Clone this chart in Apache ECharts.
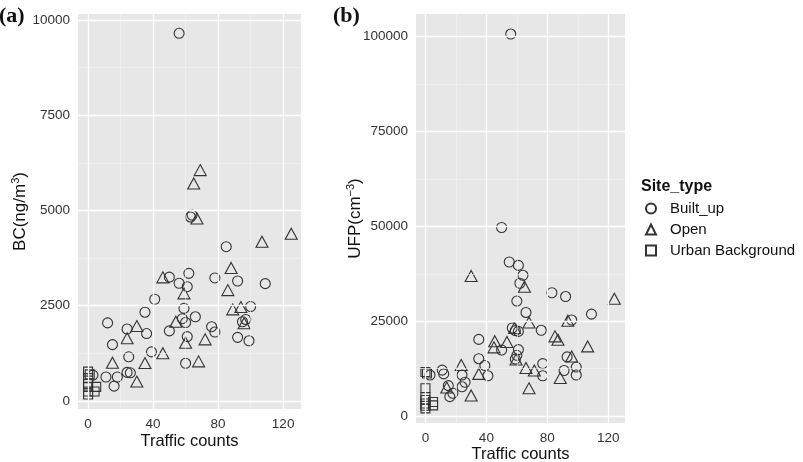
<!DOCTYPE html>
<html>
<head>
<meta charset="utf-8">
<script src="https://cdn.jsdelivr.net/npm/echarts@6/dist/echarts.min.js"></script>
<style>
  html, body { margin: 0; padding: 0; background: #fff; }
  #chart { width: 803px; height: 462px; }
</style>
</head>
<body>
<div id="chart"></div>
<script>
// tick values
var xTicks = [0, 40, 80, 120];
var xMinor = [20, 60, 100];
var bcTicks = [0, 2500, 5000, 7500, 10000];
var bcMinor = [1250, 3750, 6250, 8750];
var ufpTicks = [0, 25000, 50000, 75000, 100000];
var ufpMinor = [12500, 37500, 62500, 87500];

// (a) BC vs traffic counts
var bcBuiltUp = [
    [56, 9650], [64, 4880], [63, 4830], [85, 4050], [50, 3250], [62, 3350], [56, 3090],
    [61, 3000], [78, 3230], [92, 3150], [109, 3080], [41, 2670], [35, 2330], [59, 2430],
    [58, 2160], [66, 2210], [60, 2060], [100, 2480], [12, 2050], [24, 1890], [36, 1770],
    [50, 1840], [76, 1950], [78, 1810], [95, 2080], [97, 2140], [92, 1670], [99, 1580],
    [61, 1690], [15, 1480], [39, 1290], [60, 990], [25, 1160], [24, 750], [26, 740],
    [11, 630], [18, 630], [16, 390], [3, 680]
];
var bcOpen = [
    [69, 6060], [65, 5710], [67, 4790], [107, 4180], [125, 4390], [88, 3490], [46, 3245],
    [86, 2910], [59, 2825], [89, 2405], [94, 2465], [96, 2040], [54, 2080], [30, 1967],
    [24, 1645], [72, 1618], [60, 1530], [46, 1255], [15, 1005], [35, 995], [68, 1040],
    [30, 510]
];
var bcUrban = [
    [0, 770], [1, 700], [0, 600], [0, 450], [0, 370], [0, 250], [0, 170], [5, 370], [4, 250]
];

// (b) UFP vs traffic counts
var ufpBuiltUp = [
    [56, 100700], [50, 49700], [55, 40600], [61, 39700], [64, 37100], [62, 35000],
    [60, 30300], [83, 32500], [92, 31500], [66, 27300], [109, 26850], [96, 25300],
    [76, 22600], [57, 23200], [59, 22500], [61, 22300], [35, 20200], [61, 17500],
    [50, 17400], [35, 15100], [39, 13300], [41, 10600], [60, 16000], [59, 15000],
    [77, 13800], [77, 10600], [93, 15600], [99, 12900], [99, 10800], [91, 12000],
    [11, 12100], [12, 11100], [3, 10800], [15, 8000], [18, 6000], [16, 5100],
    [24, 7700], [24, 10800], [26, 8900]
];
var ufpOpen = [
    [30, 36900], [65, 34100], [124, 30900], [68, 24650], [93.5, 25100], [58.5, 23200],
    [45.5, 19700], [53.5, 19500], [45, 18100], [85, 21000], [87, 20100], [106.5, 18350],
    [59.5, 14900], [96, 15700], [66, 12650], [71.5, 12000], [88.5, 10000], [68, 7300],
    [23.5, 13450], [35, 11100], [30, 5400], [14, 7500]
];
var ufpUrban = [
    [0, 11600], [1, 11200], [0, 7300], [0, 5000], [0, 4200], [0, 3300], [0, 2700],
    [0, 2000], [5, 3700], [5, 2800]
];

var chart = echarts.init(document.getElementById('chart'));
var font = 'Liberation Sans, Arial, sans-serif';
var serif = 'Liberation Serif, Times New Roman, serif';
var ink = '#333';

function gridLines(idx, yTicks, yMinor) {
    var major = { color: '#fff', width: 1.3, type: 'solid' };
    var minor = { color: '#f5f5f5', width: 0.6, type: 'solid' };
    var lines = [];
    xMinor.forEach(function (v) { lines.push({ xAxis: v, lineStyle: minor }); });
    yMinor.forEach(function (v) { lines.push({ yAxis: v, lineStyle: minor }); });
    xTicks.forEach(function (v) { lines.push({ xAxis: v, lineStyle: major }); });
    yTicks.forEach(function (v) { lines.push({ yAxis: v, lineStyle: major }); });
    return {
        type: 'scatter',
        xAxisIndex: idx,
        yAxisIndex: idx,
        data: [],
        z: 1,
        silent: true,
        markLine: {
            silent: true,
            symbol: ['none', 'none'],
            label: { show: false },
            animation: false,
            data: lines
        }
    };
}

function points(name, idx, symbol, size, data) {
    return {
        name: name,
        type: 'scatter',
        xAxisIndex: idx,
        yAxisIndex: idx,
        symbol: symbol,
        symbolSize: size,
        z: 3,
        clip: false,
        itemStyle: { color: 'rgba(0,0,0,0)', borderColor: ink, borderWidth: 1.1, opacity: 1 },
        emphasis: { disabled: true },
        data: data
    };
}

function plain(v) { return String(v); }

function xAxis(idx, gap) {
    return {
        type: 'value',
        gridIndex: idx,
        min: -6.2,
        max: 131,
        name: 'Traffic counts',
        nameLocation: 'middle',
        nameGap: gap,
        nameMoveOverlap: false,
        nameTextStyle: { fontFamily: font, fontSize: 16.5, color: '#111' },
        axisLine: { show: false },
        axisTick: { show: true, length: 4, customValues: xTicks, lineStyle: { color: '#444' } },
        axisLabel: { customValues: xTicks, formatter: plain, margin: 8, fontFamily: font, fontSize: 13.5, color: ink },
        splitLine: { show: false }
    };
}

function yAxis(idx, min, max, ticks, name, gap) {
    return {
        type: 'value',
        gridIndex: idx,
        min: min,
        max: max,
        name: name,
        nameLocation: 'middle',
        nameGap: gap,
        nameRotate: 90,
        nameMoveOverlap: false,
        nameTextStyle: {
            fontFamily: font, fontSize: 17, color: '#111',
            rich: {
                sup: { fontFamily: font, fontSize: 11, color: '#111', verticalAlign: 'top', padding: [0, 0, 9, 0] }
            }
        },
        axisLine: { show: false },
        axisTick: { show: true, length: 4, customValues: ticks, lineStyle: { color: '#444' } },
        axisLabel: { customValues: ticks, formatter: plain, margin: 8, fontFamily: font, fontSize: 13.5, color: ink },
        splitLine: { show: false }
    };
}

chart.setOption({
    animation: false,
    title: [
        { text: '(a)', left: -1, top: 5, padding: 0, textStyle: { fontFamily: serif, fontSize: 22, fontWeight: 'bold', color: '#111' } },
        { text: '(b)', left: 333, top: 5, padding: 0, textStyle: { fontFamily: serif, fontSize: 22, fontWeight: 'bold', color: '#111' } },
        { text: 'Site_type', left: 641, top: 179, padding: 0, textStyle: { fontFamily: font, fontSize: 16, fontWeight: 'bold', color: '#111' } }
    ],
    legend: {
        orient: 'vertical',
        left: 645,
        top: 201,
        padding: 0,
        itemWidth: 10,
        itemHeight: 10,
        itemGap: 6,
        data: ['Built_up', 'Open', 'Urban Background'],
        textStyle: { fontFamily: font, fontSize: 15, color: '#111', padding: [0, 0, 0, 9] },
        selectedMode: false
    },
    grid: [
        { left: 78, top: 14, width: 223, height: 395, outerBoundsMode: 'none', show: true, backgroundColor: '#e7e7e7', borderWidth: 0 },
        { left: 416, top: 14, width: 209, height: 409, outerBoundsMode: 'none', show: true, backgroundColor: '#e7e7e7', borderWidth: 0 }
    ],
    xAxis: [xAxis(0, 24), xAxis(1, 23)],
    yAxis: [
        yAxis(0, -210, 10157, bcTicks, 'BC(ng/m{sup|3})', 48),
        yAxis(1, -1845, 105985, ufpTicks, 'UFP(cm{sup|−3})', 51)
    ],
    series: [
        gridLines(0, bcTicks, bcMinor),
        gridLines(1, ufpTicks, ufpMinor),
        points('Built_up', 0, 'circle', 10, bcBuiltUp),
        points('Open', 0, 'triangle', [12, 11], bcOpen),
        points('Urban Background', 0, 'rect', 9, bcUrban),
        points('Built_up', 1, 'circle', 10, ufpBuiltUp),
        points('Open', 1, 'triangle', [12, 11], ufpOpen),
        points('Urban Background', 1, 'rect', 9, ufpUrban)
    ]
});
</script>
</body>
</html>
